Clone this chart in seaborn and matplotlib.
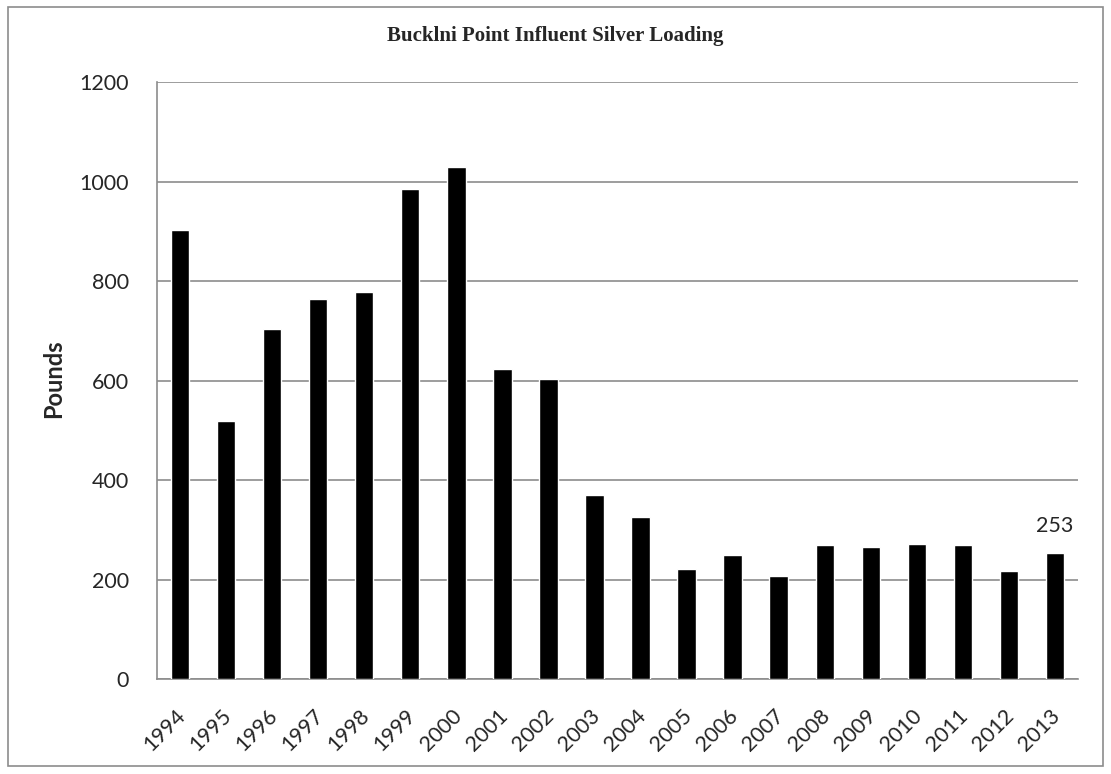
import numpy as np
import pandas as pd
import matplotlib.pyplot as plt
import matplotlib.transforms as mtransforms
import seaborn as sns
from matplotlib.patches import Rectangle
from matplotlib.ticker import FixedLocator

# Data
years = [str(y) for y in range(1994, 2014)]
pounds = [902, 519, 704, 764, 777, 985, 1029, 624, 604, 369,
          325, 222, 249, 207, 269, 265, 271, 269, 217, 253]

df = pd.DataFrame({'Year': years, 'Pounds': pounds})

sns.set_style('white')
plt.rcParams['font.family'] = ['Lato', 'DejaVu Sans']

fig = plt.figure(figsize=(11.11, 7.74), dpi=100)
ax = fig.add_axes([0.1413, 0.1227, 0.829, 0.7713])

sns.barplot(data=df, x='Year', y='Pounds', color='black', width=0.4,
            saturation=1, ax=ax, zorder=3)

ax.set_ylim(0, 1200)
ax.set_xlim(-0.5, len(years) - 0.5)
ax.set_yticks(np.arange(0, 1201, 200))
ax.yaxis.grid(True, color='#8c8c8c', linewidth=1.2, zorder=0)
ax.set_axisbelow(True)

for side in ['top', 'right']:
    ax.spines[side].set_visible(False)
for side in ['left', 'bottom']:
    ax.spines[side].set_color('#8c8c8c')
    ax.spines[side].set_linewidth(1.2)

# x ticks sit between the categories
ax.xaxis.set_minor_locator(FixedLocator(np.arange(-0.5, len(years), 1)))
ax.tick_params(axis='x', which='major', length=0, pad=19, labelsize=15.5)
ax.tick_params(axis='x', which='minor', length=7, color='#8c8c8c', width=1.2, direction='out')
ax.tick_params(axis='y', length=7, color='#8c8c8c', width=1.2, direction='out',
               labelsize=15.5, pad=13)

shift = mtransforms.ScaledTranslation(-5 / 100, 0, fig.dpi_scale_trans)
for lab in ax.get_xticklabels():
    lab.set_rotation(45)
    lab.set_ha('right')
    lab.set_va('top')
    lab.set_rotation_mode('anchor')
    lab.set_transform(lab.get_transform() + shift)

ax.set_xlabel('')
ax.set_ylabel('Pounds', fontsize=17, fontweight='bold')
ax.yaxis.set_label_coords(-0.0999, 0.503)

fig.text(0.5, 0.953, 'Bucklni Point Influent Silver Loading',
         ha='center', va='center', fontsize=15, fontweight='bold',
         family=['Liberation Serif', 'DejaVu Serif'])

# label on the last bar
ax.text(len(years) - 1, pounds[-1] + 42, str(pounds[-1]),
        ha='center', va='baseline', fontsize=15.5)

fig.patches.append(Rectangle((0.0072, 0.0103), 0.9856, 0.9806,
                             transform=fig.transFigure, fill=False,
                             edgecolor='#8c8c8c', linewidth=1.2))

plt.savefig('out.png', dpi=100)
